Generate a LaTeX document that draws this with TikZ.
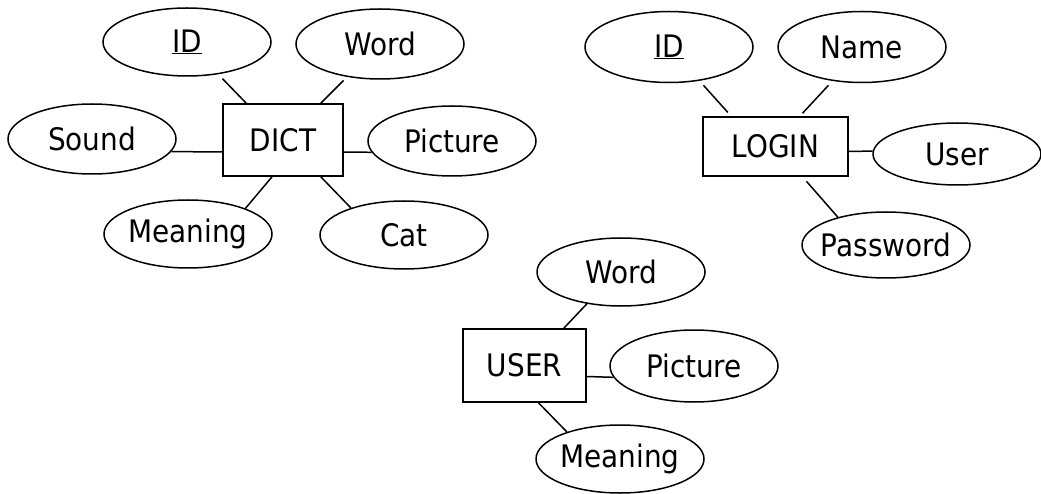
\documentclass[tikz,border=0pt]{standalone}
\usepackage{fontspec}
\setmainfont{DejaVu Sans Condensed}
\usetikzlibrary{shapes.geometric}
\newcommand\zw[1]{\makebox[0pt][c]{#1}}
\tikzset{
  ent/.style={draw, line width=1.6pt, rectangle, inner sep=0pt, font=\fontsize{31}{36}\selectfont},
  attr/.style={draw, line width=1.5pt, ellipse, inner sep=0pt, minimum width=168pt, minimum height=68pt, fill=white, font=\fontsize{31}{36}\selectfont},
  link/.style={line width=1.5pt}
}
\begin{document}
\begin{tikzpicture}[x=1pt,y=-1pt]
\useasboundingbox (0,0) rectangle (1041,494);
% DICT
\node[ent, minimum width=120pt, minimum height=72pt] (dict) at (283,140) {DICT};
\node[attr] (did) at (187,42) {\zw{\underline{ID}}};
\node[attr, minimum height=70pt] (dword) at (380,44) {\zw{Word}};
\node[attr, minimum height=70pt] (dsound) at (92,139) {\zw{Sound}};
\node[attr, minimum height=70pt] (dpic) at (452,141) {\zw{Picture}};
\node[attr] (dmean) at (188,234) {\zw{Meaning}};
\node[attr] (dcat) at (404,235) {\zw{Cat}};
\draw[link, shorten >=6pt] ([xshift=24pt]dict.north west) -- (did);
\draw[link, shorten >=5pt] ([xshift=-23pt]dict.north east) -- (dword);
\draw[link] ([yshift=-12pt]dict.west) -- (dsound.-9);
\draw[link] ([yshift=-12pt]dict.east) -- (dpic.188);
\draw[link] ([xshift=-11pt]dict.south) -- (dmean.24);
\draw[link] ([xshift=-23pt]dict.south east) -- (dcat.153);
% LOGIN
\node[ent, minimum width=145pt, minimum height=59pt] (login) at (775.5,146.5) {LOGIN};
\node[attr, minimum height=71pt] (lid) at (669,47) {\zw{\underline{ID}}};
\node[attr, minimum height=71pt] (lname) at (862,47) {\zw{Name}};
\node[attr, minimum height=62pt] (luser) at (957,154) {\zw{User}};
\node[attr, minimum height=66pt] (lpass) at (886,245) {\zw{Password}};
\draw[link, shorten <=5pt, shorten >=6pt] ([xshift=29pt]login.north west) -- (lid.-48);
\draw[link, shorten <=4pt, shorten >=6pt] ([xshift=-49pt]login.north east) -- (lname.-131);
\draw[link] ([yshift=-5pt]login.east) -- (luser.178);
\draw[link, shorten <=6pt] ([xshift=27pt]login.south) -- (lpass.150);
% USER
\node[ent, minimum width=123pt, minimum height=73pt] (user) at (524.5,365.5) {USER};
\node[attr] (uword) at (621,272) {\zw{Word}};
\node[attr, minimum height=72pt] (upic) at (694,366) {\zw{Picture}};
\node[attr] (umean) at (620,459) {\zw{Meaning}};
\draw[link] ([xshift=-23pt]user.north east) -- (uword.-137);
\draw[link] ([yshift=-11pt]user.east) -- (upic.188);
\draw[link] ([xshift=14pt]user.south) -- (umean.153);
\end{tikzpicture}
\end{document}
